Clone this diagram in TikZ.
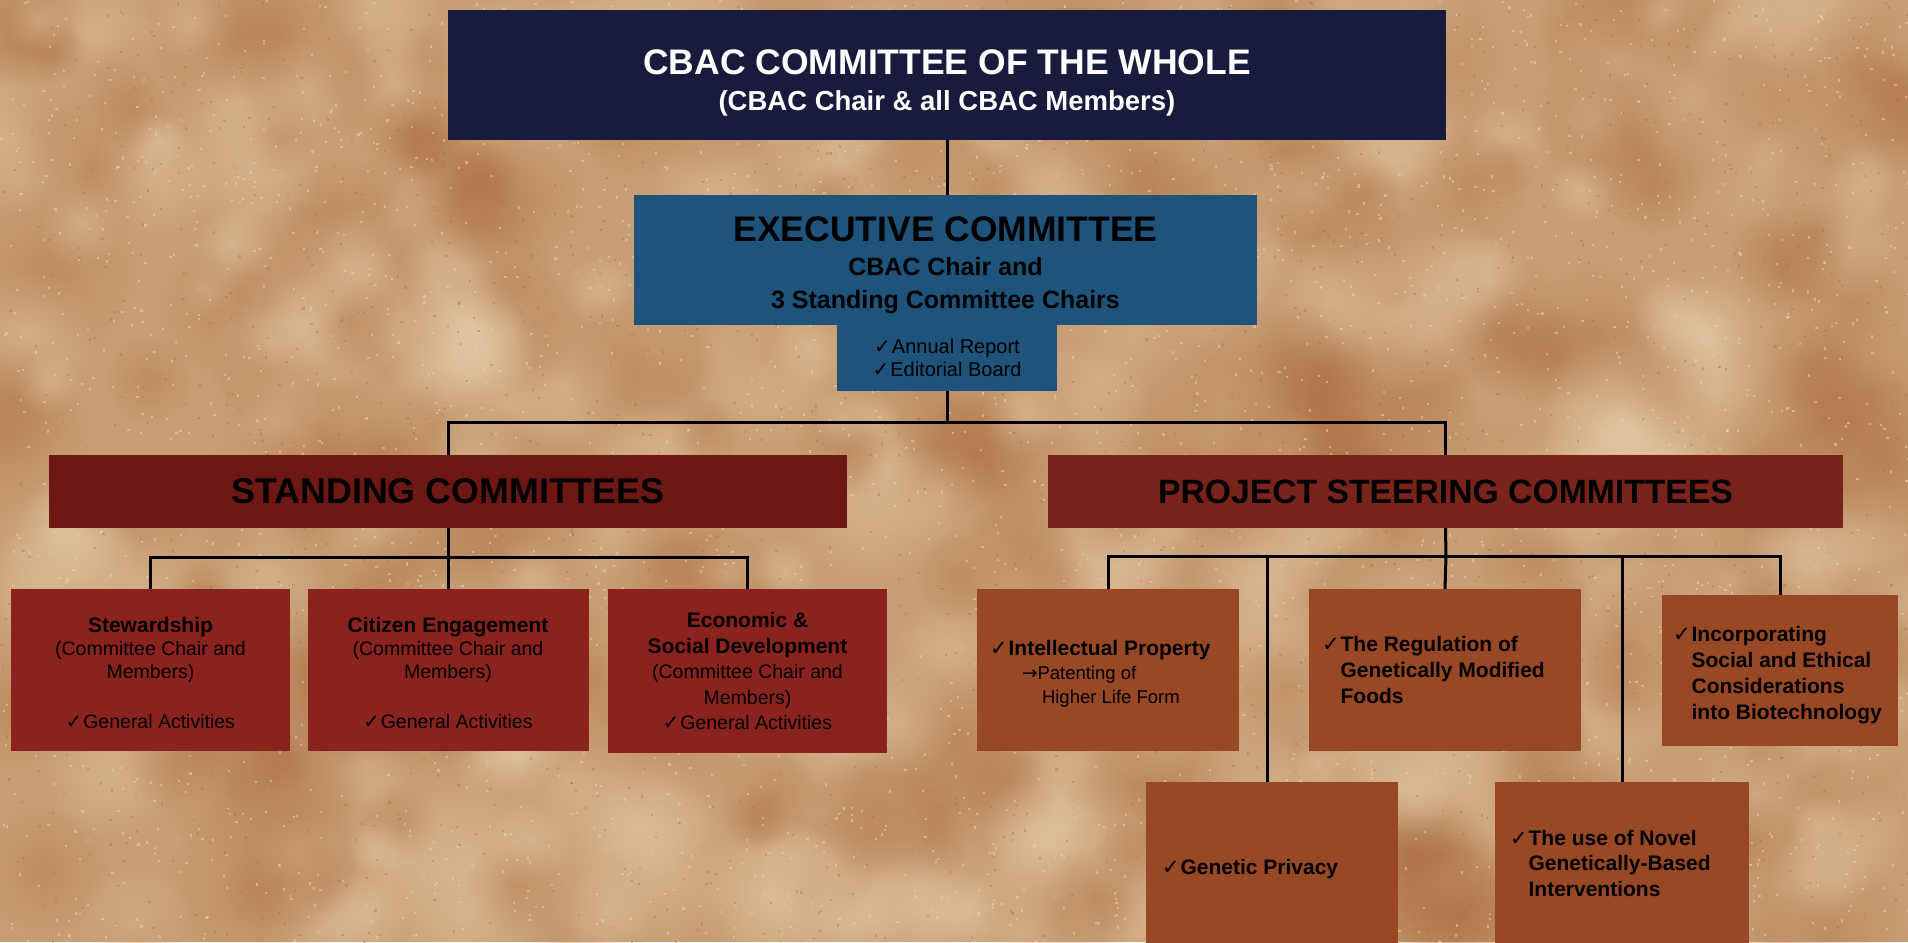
\documentclass[tikz,border=0pt]{standalone}
\usepackage{fontspec}
\setmainfont{Liberation Sans}
\newfontfamily\symfont{DejaVu Sans}
\usetikzlibrary{calc,fadings}

% soft round blob for the mottled paper
\tikzfading[name=softblob, inner color=transparent!0, outer color=transparent!100]

% palette
\definecolor{bgtan}{RGB}{200,158,116}
\definecolor{bglight}{RGB}{236,214,180}
\definecolor{bgdark}{RGB}{168,102,56}
\definecolor{navy}{RGB}{24,27,60}
\definecolor{execblue}{RGB}{30,84,124}
\definecolor{headred}{RGB}{110,24,22}
\definecolor{standred}{RGB}{138,34,30}
\definecolor{projhead}{RGB}{120,36,27}
\definecolor{projbrown}{RGB}{152,72,36}

% check mark, arrow, hanging indents; sizes with fixed natural word spaces
\newcommand\ck{{\symfont ✓}\hspace{1pt}}
\newcommand\hangck{\hphantom{\ck}}
\newcommand\rarr{{\symfont →}}
\newcommand\fs[2]{\fontsize{#1}{#2}\selectfont
  \spaceskip=\fontdimen2\font\xspaceskip=\fontdimen2\font\relax}
% invisible strut that lowers a centred text block
\newcommand\topstrut[1]{\rule{0pt}{#1}}

\tikzset{
  box/.style={inner sep=0pt, outer sep=0pt, align=center, text=black},
  link/.style={draw=black, line width=3pt},
  standbox/.style={box, fill=standred, minimum height=162pt},
  projbox/.style={box, fill=projbrown, align=left, inner xsep=13pt, minimum height=#1},
}

\begin{document}
\begin{tikzpicture}[x=1pt, y=-1pt]
\useasboundingbox (0,0) rectangle (1908,942);

% mottled paper background
\fill[bgtan] (0,0) rectangle (1908,942);
\pgfmathsetseed{17}
\foreach \i in {1,...,520}{
  \pgfmathsetmacro\xx{rnd*1908}
  \pgfmathsetmacro\yy{rnd*942}
  \pgfmathsetmacro\rr{30+rnd*60}
  \pgfmathsetmacro\cc{rnd}
  \ifdim\cc pt<0.5pt
    \fill[bglight, opacity=0.35, path fading=softblob] (\xx,\yy) circle[radius=\rr];
  \else
    \fill[bgdark, opacity=0.32, path fading=softblob] (\xx,\yy) circle[radius=\rr];
  \fi
}
% fine grain
\foreach \i in {1,...,3000}{
  \pgfmathsetmacro\xx{rnd*1908}
  \pgfmathsetmacro\yy{rnd*942}
  \fill[bglight, opacity=0.5] (\xx,\yy) rectangle ++(2.2,2.2);
}
\foreach \i in {1,...,1600}{
  \pgfmathsetmacro\xx{rnd*1908}
  \pgfmathsetmacro\yy{rnd*942}
  \fill[bgdark, opacity=0.35] (\xx,\yy) rectangle ++(2.2,2.2);
}

% top level
\node[box, fill=navy, text=white, text width=998pt, minimum height=130pt] (whole) at (947,75)
  {\bfseries\fs{35.5}{40}\topstrut{41pt}CBAC COMMITTEE OF THE WHOLE\par
   \fs{27.5}{36}(CBAC Chair \& all CBAC Members)\par};

% executive committee
\node[box, fill=execblue, text width=623pt, minimum height=130pt] (exec) at (945.5,260)
  {\bfseries\fs{35.5}{40}\topstrut{36pt}EXECUTIVE COMMITTEE\par
   \fs{25}{34}CBAC Chair and\par
   \fs{25}{33}3 Standing Committee Chairs\par};
\node[box, fill=execblue, text width=220pt, minimum height=66pt, anchor=north] (execsub) at (947,325)
  {\fs{20}{23}\ck Annual Report\\ \ck Editorial Board\par};

% group headers
\node[box, fill=headred, text width=798pt, minimum height=73pt] (stand) at (448,491.5)
  {\bfseries\fs{35.8}{40}STANDING COMMITTEES\par};
\node[box, fill=projhead, text width=795pt, minimum height=73pt] (proj) at (1445.5,491.5)
  {\bfseries\fs{33.7}{40}PROJECT STEERING COMMITTEES\par};

% standing committees
\node[standbox, text width=279pt] (stew) at (150.5,670)
  {\bfseries\fs{21}{24}\topstrut{21pt}Stewardship\par
   \mdseries\fs{19.5}{23}(Committee Chair and\\ Members)\par\vspace{27pt}
   \ck General Activities\par};
\node[standbox, text width=281pt] (citizen) at (448,670)
  {\bfseries\fs{21}{24}\topstrut{21pt}Citizen Engagement\par
   \mdseries\fs{19.5}{23}(Committee Chair and\\ Members)\par\vspace{27pt}
   \ck General Activities\par};
\node[standbox, text width=279pt, minimum height=164pt] (econ) at (747.5,671)
  {\bfseries\fs{21}{25.5}Economic \&\\ Social Development\par
   \mdseries\fs{19.5}{25.5}(Committee Chair and\\ Members)\\
   \ck General Activities\par};

% project steering committees
\node[projbox=162pt, text width=236pt] (ip) at (1108,670)
  {\bfseries\fs{21}{25}\topstrut{22pt}\ck Intellectual Property\par
   \mdseries\fs{18.5}{24}\hspace{32pt}\rarr Patenting of\\
   \hspace{52pt}Higher Life Form\par};
\node[projbox=162pt, text width=246pt] (reg) at (1445,670)
  {\bfseries\fs{21}{26}\ck The Regulation of\\
   \hangck Genetically Modified\\ \hangck Foods\par};
\node[projbox=151pt, text width=214pt, inner xsep=11pt] (incorp) at (1780,670.5)
  {\bfseries\fs{21}{26}\topstrut{25pt}\ck Incorporating\\
   \hangck Social and Ethical\\ \hangck Considerations\\ \hangck into Biotechnology\par};
\node[projbox=162pt, text width=220pt, inner xsep=16pt] (privacy) at (1272,863)
  {\bfseries\fs{21}{25}\topstrut{27pt}\ck Genetic Privacy\par};
\node[projbox=162pt, text width=224pt, inner xsep=15pt] (novel) at (1622,863)
  {\bfseries\fs{21}{25.5}\ck The use of Novel\\
   \hangck Genetically-Based\\ \hangck Interventions\par};

% junction points of the tree
\coordinate (execjoin) at (947,422);
\coordinate (standjoin) at (448,557);
\coordinate (projjoin) at (1446,556);
\coordinate (privtop) at (1267,782);

% connectors
\draw[link] (whole.south) -- (exec.north -| whole.south);
\draw[link] (execsub.south) -- (execjoin);
\draw[link] (stand.north) |- (execjoin) -| (proj.north);

\draw[link] (stand.south) -- (standjoin);
\draw[link] (stew.north) |- (standjoin) -| (econ.north);
\draw[link] (standjoin) -- (citizen.north);

\draw[link] (proj.south) -- (projjoin);
\draw[link] (ip.north) |- (projjoin) -| (incorp.north);
\draw[link] (projjoin) -- (reg.north);
\draw[link] (privtop) |- (projjoin);
\draw[link] (novel.north) |- (projjoin);
\end{tikzpicture}
\end{document}
